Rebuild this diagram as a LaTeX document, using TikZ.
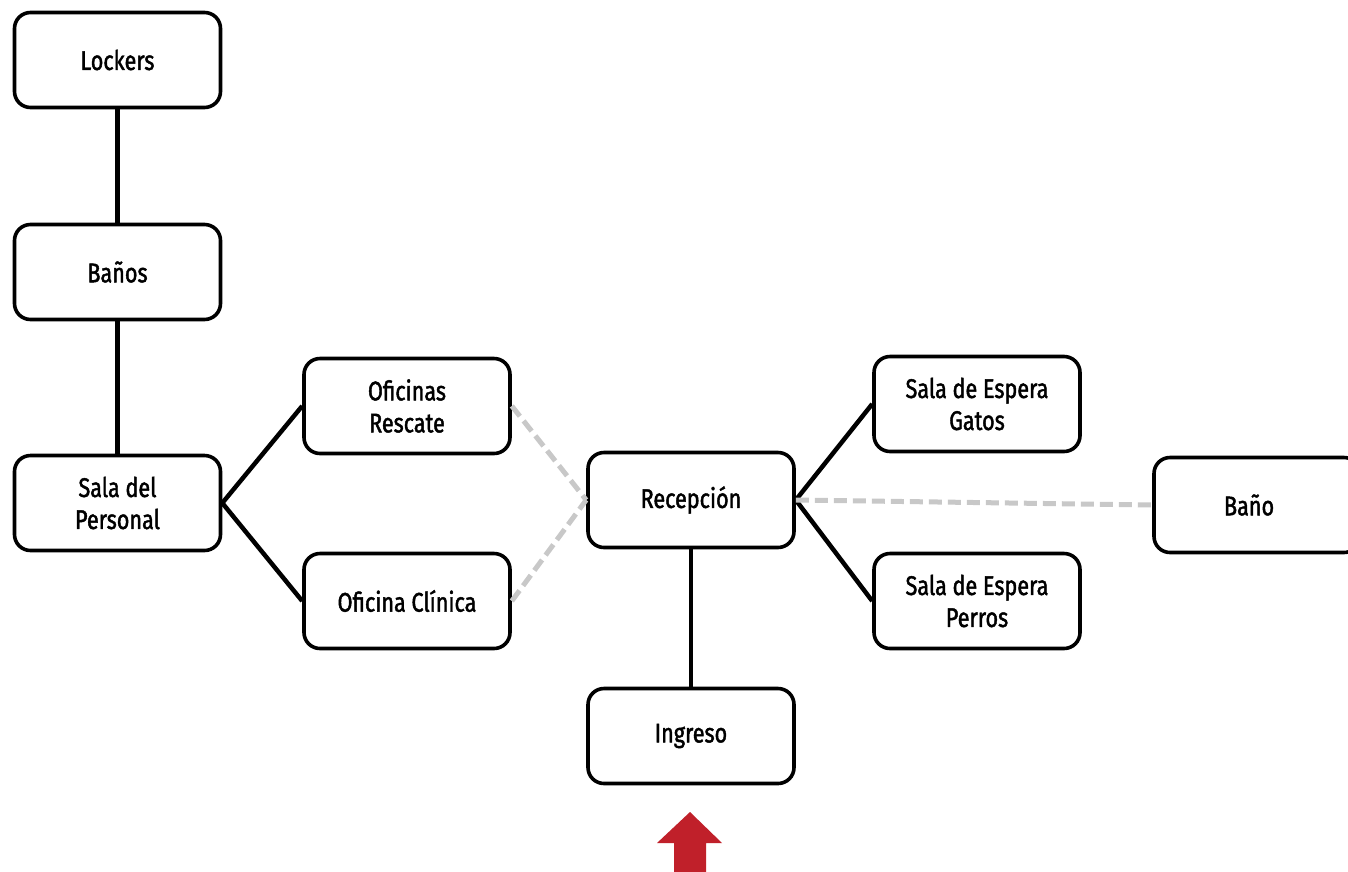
\documentclass[tikz,border=0pt]{standalone}
\usepackage{fontspec}
\setmainfont{Fira Sans}[FakeStretch=0.8, UprightFeatures={FakeBold=1.6}]
\definecolor{entryred}{HTML}{C0202A}
\definecolor{softgray}{HTML}{C8C8C8}
\begin{document}
\begin{tikzpicture}[x=1pt,y=-1pt,
  room/.style={draw=black, line width=3.6pt, rounded corners=16pt, fill=white,
    minimum width=206pt, minimum height=95pt, align=center,
    font=\fontsize{27}{32}\selectfont, inner sep=0pt},
  solid link/.style={line width=4.5pt, black},
  soft link/.style={line width=5pt, draw=softgray, dash pattern=on 13pt off 6pt}]
\useasboundingbox (0,0) rectangle (1348,871);
\clip (0,0) rectangle (1348,871);
\fill[white] (0,0) rectangle (1348,871);
\coordinate (lk) at (117.5,60);
\coordinate (bn) at (117.5,272);
\coordinate (sp) at (117.5,503);
\coordinate (orr) at (407,406);
\coordinate (oc) at (407,601);
\coordinate (rc) at (691,500);
\coordinate (sg) at (977,404);
\coordinate (spp) at (977,601);
\coordinate (bo) at (1257,505);
\coordinate (ig) at (691,736);
\node[room] (lockers) at (lk) {Lockers};
\node[room] (banos) at (bn) {Baños};
\node[room] (sala) at (sp) {Sala del\\Personal};
\node[room] (ofres) at (orr) {Oficinas\\Rescate};
\node[room] (ofcli) at (oc) {Oficina Clínica};
\node[room] (recep) at (rc) {Recepción};
\node[room] (gatos) at (sg) {Sala de Espera\\Gatos};
\node[room] (perros) at (spp) {Sala de Espera\\Perros};
\node[room, text width=190pt, align=left] (bano) at (bo) {\hspace{62pt}Baño};
\node[room] (ingreso) at (ig) {Ingreso};
\draw[solid link] (lockers.south) -- (banos.north);
\draw[solid link] (banos.south) -- (sala.north);
\draw[solid link] (sala.east) -- (ofres.west);
\draw[solid link] (sala.east) -- (ofcli.west);
\draw[soft link] (ofres.east) -- (recep.west);
\draw[soft link] (ofcli.east) -- (recep.west);
\draw[solid link] (recep.east) -- (gatos.west);
\draw[solid link] (recep.east) -- (perros.west);
\draw[soft link] (recep.east) -- (bano.west);
\draw[solid link] (recep.south) -- (ingreso.north);
\coordinate (tip) at (690,812);
\fill[entryred] (tip) -- (722,843) -- (706,843) -- (706,880) -- (674,880) -- (674,843) -- (657,843) -- cycle;
\end{tikzpicture}
\end{document}
